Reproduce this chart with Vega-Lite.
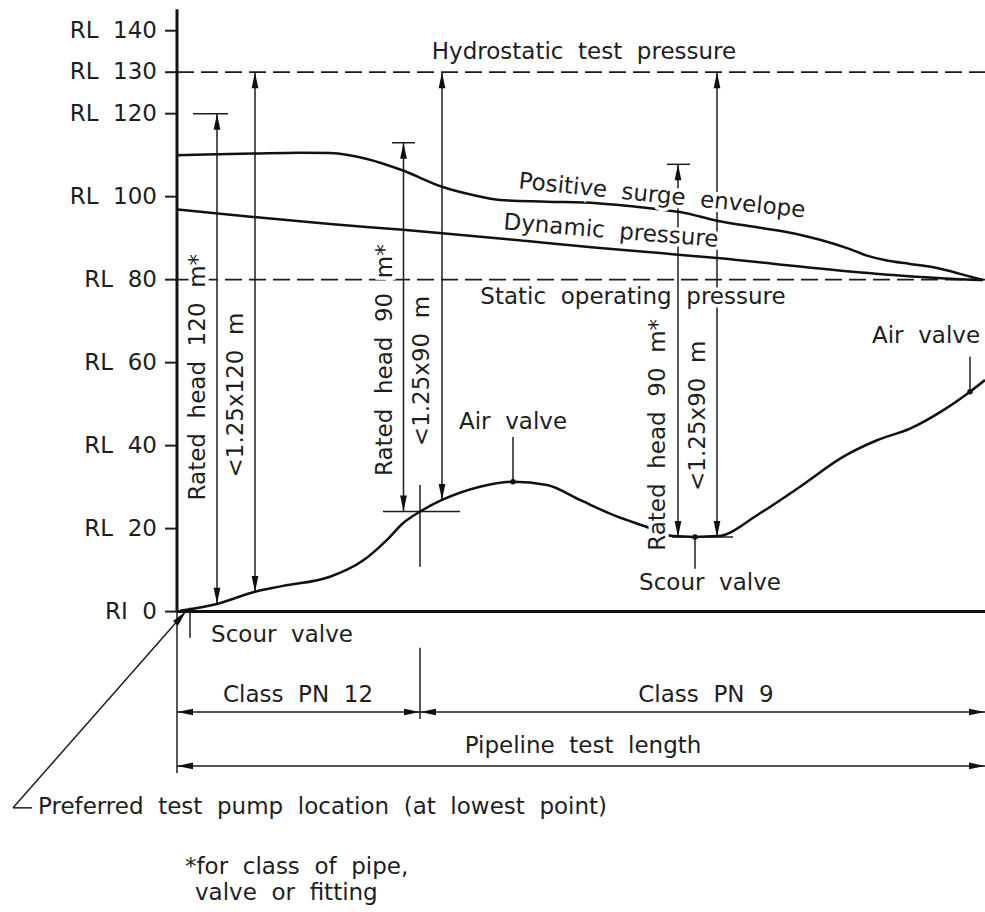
{
  "$schema": "https://vega.github.io/schema/vega-lite/v6.json",
  "width": 985,
  "height": 912,
  "padding": 0,
  "autosize": {"type": "none"},
  "background": "white",
  "config": {"view": {"stroke": null}, "text": {"font": "DejaVu Sans", "fontSize": 23, "color": "#1e1e1e"}},
  "datasets": {
    "curves": [
      {"series": "Positive surge envelope", "x": 0, "y": 110.0},
      {"series": "Positive surge envelope", "x": 76, "y": 110.4},
      {"series": "Positive surge envelope", "x": 123, "y": 110.6},
      {"series": "Positive surge envelope", "x": 153, "y": 110.5},
      {"series": "Positive surge envelope", "x": 190, "y": 109.1},
      {"series": "Positive surge envelope", "x": 226, "y": 106.3},
      {"series": "Positive surge envelope", "x": 265, "y": 102.4},
      {"series": "Positive surge envelope", "x": 296, "y": 100.4},
      {"series": "Positive surge envelope", "x": 323, "y": 99.2},
      {"series": "Positive surge envelope", "x": 370, "y": 98.8},
      {"series": "Positive surge envelope", "x": 420, "y": 98.4},
      {"series": "Positive surge envelope", "x": 483, "y": 96.9},
      {"series": "Positive surge envelope", "x": 503, "y": 96.3},
      {"series": "Positive surge envelope", "x": 540, "y": 94.2},
      {"series": "Positive surge envelope", "x": 583, "y": 92.5},
      {"series": "Positive surge envelope", "x": 616, "y": 91.2},
      {"series": "Positive surge envelope", "x": 643, "y": 89.6},
      {"series": "Positive surge envelope", "x": 670, "y": 87.6},
      {"series": "Positive surge envelope", "x": 690, "y": 85.8},
      {"series": "Positive surge envelope", "x": 710, "y": 84.6},
      {"series": "Positive surge envelope", "x": 733, "y": 83.8},
      {"series": "Positive surge envelope", "x": 760, "y": 82.8},
      {"series": "Positive surge envelope", "x": 783, "y": 81.4},
      {"series": "Positive surge envelope", "x": 806, "y": 79.9},
      {"series": "Dynamic pressure", "x": 0, "y": 96.9},
      {"series": "Dynamic pressure", "x": 76, "y": 95.1},
      {"series": "Dynamic pressure", "x": 153, "y": 93.4},
      {"series": "Dynamic pressure", "x": 226, "y": 92.0},
      {"series": "Dynamic pressure", "x": 265, "y": 91.2},
      {"series": "Dynamic pressure", "x": 350, "y": 89.3},
      {"series": "Dynamic pressure", "x": 420, "y": 87.7},
      {"series": "Dynamic pressure", "x": 483, "y": 86.4},
      {"series": "Dynamic pressure", "x": 540, "y": 85.2},
      {"series": "Dynamic pressure", "x": 650, "y": 82.5},
      {"series": "Dynamic pressure", "x": 716, "y": 81.1},
      {"series": "Dynamic pressure", "x": 783, "y": 80.1},
      {"series": "Dynamic pressure", "x": 806, "y": 79.9},
      {"series": "Ground profile", "x": 3, "y": 0.2},
      {"series": "Ground profile", "x": 40, "y": 1.85},
      {"series": "Ground profile", "x": 78, "y": 4.8},
      {"series": "Ground profile", "x": 106, "y": 6.2},
      {"series": "Ground profile", "x": 153, "y": 8.4},
      {"series": "Ground profile", "x": 186, "y": 12.3},
      {"series": "Ground profile", "x": 210, "y": 17.3},
      {"series": "Ground profile", "x": 226, "y": 21.3},
      {"series": "Ground profile", "x": 243, "y": 24.1},
      {"series": "Ground profile", "x": 265, "y": 26.9},
      {"series": "Ground profile", "x": 303, "y": 30.1},
      {"series": "Ground profile", "x": 336, "y": 31.3},
      {"series": "Ground profile", "x": 370, "y": 30.5},
      {"series": "Ground profile", "x": 403, "y": 26.9},
      {"series": "Ground profile", "x": 436, "y": 23.3},
      {"series": "Ground profile", "x": 470, "y": 20.4},
      {"series": "Ground profile", "x": 496, "y": 18.2},
      {"series": "Ground profile", "x": 518, "y": 18.0},
      {"series": "Ground profile", "x": 541, "y": 18.2},
      {"series": "Ground profile", "x": 583, "y": 23.7},
      {"series": "Ground profile", "x": 623, "y": 30.1},
      {"series": "Ground profile", "x": 666, "y": 37.3},
      {"series": "Ground profile", "x": 700, "y": 41.3},
      {"series": "Ground profile", "x": 733, "y": 44.1},
      {"series": "Ground profile", "x": 766, "y": 48.5},
      {"series": "Ground profile", "x": 793, "y": 53.0},
      {"series": "Ground profile", "x": 808, "y": 55.8}
    ],
    "lines": [
      {"role": "frame", "x": 0, "y": 0, "x2": 0, "y2": 145.2},
      {"role": "frame", "x": 0, "y": 0, "x2": 808, "y2": 0},
      {"role": "tick", "x": -12, "y": 0, "x2": 0, "y2": 0},
      {"role": "tick", "x": -12, "y": 20, "x2": 0, "y2": 20},
      {"role": "tick", "x": -12, "y": 40, "x2": 0, "y2": 40},
      {"role": "tick", "x": -12, "y": 60, "x2": 0, "y2": 60},
      {"role": "tick", "x": -12, "y": 80, "x2": 0, "y2": 80},
      {"role": "tick", "x": -12, "y": 100, "x2": 0, "y2": 100},
      {"role": "tick", "x": -12, "y": 120, "x2": 0, "y2": 120},
      {"role": "tick", "x": -12, "y": 130, "x2": 0, "y2": 130},
      {"role": "tick", "x": -12, "y": 140, "x2": 0, "y2": 140},
      {"role": "ref", "x": 0, "y": 130, "x2": 808, "y2": 130},
      {"role": "ref", "x": 0, "y": 80, "x2": 808, "y2": 80},
      {"role": "dim", "x": 40, "y": 120, "x2": 40, "y2": 1.9},
      {"role": "dim", "x": 16, "y": 120, "x2": 51, "y2": 120},
      {"role": "dim", "x": 78, "y": 130, "x2": 78, "y2": 4.7},
      {"role": "dim", "x": 226.5, "y": 113, "x2": 226.5, "y2": 24.1},
      {"role": "dim", "x": 215, "y": 113, "x2": 238, "y2": 113},
      {"role": "dim", "x": 265, "y": 130, "x2": 265, "y2": 26.9},
      {"role": "dim", "x": 206, "y": 24.1, "x2": 283, "y2": 24.1},
      {"role": "dim", "x": 243, "y": 30.5, "x2": 243, "y2": 10.8},
      {"role": "dim", "x": 501, "y": 107.8, "x2": 501, "y2": 18},
      {"role": "dim", "x": 490, "y": 107.8, "x2": 513, "y2": 107.8},
      {"role": "dim", "x": 540, "y": 130, "x2": 540, "y2": 18},
      {"role": "dim", "x": 495, "y": 18, "x2": 556, "y2": 18},
      {"role": "dim", "x": 518, "y": 18, "x2": 518, "y2": 10.3},
      {"role": "dim", "x": 336, "y": 42.1, "x2": 336, "y2": 31.3},
      {"role": "dim", "x": 793, "y": 61.4, "x2": 793, "y2": 53.0},
      {"role": "dim", "x": 13, "y": 1.0, "x2": 13, "y2": -6.3},
      {"role": "dim", "x": 0, "y": 0, "x2": 0, "y2": -38.9},
      {"role": "dim", "x": 243, "y": -8.7, "x2": 243, "y2": -25.9},
      {"role": "dim", "x": 0, "y": -24.2, "x2": 808, "y2": -24.2},
      {"role": "dim", "x": 0, "y": -37.2, "x2": 808, "y2": -37.2},
      {"role": "dim", "x": -164, "y": -47.3, "x2": 9, "y2": 0.1},
      {"role": "dim", "x": -164, "y": -47.3, "x2": -145, "y2": -47.3}
    ],
    "arrows": [
      {"x": 40, "y": 120, "dir": "up"},
      {"x": 78, "y": 130, "dir": "up"},
      {"x": 226.5, "y": 113, "dir": "up"},
      {"x": 265, "y": 130, "dir": "up"},
      {"x": 501, "y": 107.8, "dir": "up"},
      {"x": 540, "y": 130, "dir": "up"},
      {"x": 40, "y": 1.9, "dir": "down"},
      {"x": 78, "y": 4.7, "dir": "down"},
      {"x": 226.5, "y": 24.1, "dir": "down"},
      {"x": 265, "y": 26.9, "dir": "down"},
      {"x": 501, "y": 18, "dir": "down"},
      {"x": 540, "y": 18, "dir": "down"},
      {"x": 0, "y": -24.2, "dir": "left"},
      {"x": 243, "y": -24.2, "dir": "left"},
      {"x": 0, "y": -37.2, "dir": "left"},
      {"x": 243, "y": -24.2, "dir": "right"},
      {"x": 808, "y": -24.2, "dir": "right"},
      {"x": 808, "y": -37.2, "dir": "right"}
    ],
    "leader_tip": [{"x": 9, "y": 0.1}],
    "valves": [
      {"x": 336, "y": 31.3, "valve": "Air valve"},
      {"x": 793, "y": 53.0, "valve": "Air valve"},
      {"x": 518, "y": 18.0, "valve": "Scour valve"}
    ],
    "labels": [
      {"x": 407, "y": 134.9, "label": "Hydrostatic \u00a0test \u00a0pressure"},
      {"x": 456, "y": 75.8, "label": "Static \u00a0operating \u00a0pressure"},
      {"x": 336, "y": 45.7, "label": "Air \u00a0valve"},
      {"x": 749, "y": 66.4, "label": "Air \u00a0valve"},
      {"x": 533, "y": 6.9, "label": "Scour \u00a0valve"},
      {"x": 105, "y": -5.6, "label": "Scour \u00a0valve"},
      {"x": 121, "y": -20.1, "label": "Class \u00a0PN \u00a012"},
      {"x": 529, "y": -20.1, "label": "Class \u00a0PN \u00a09"},
      {"x": 406, "y": -32.4, "label": "Pipeline \u00a0test \u00a0length"}
    ],
    "axis_labels": [
      {"x": -20, "y": 140, "label": "RL \u00a0140"},
      {"x": -20, "y": 130, "label": "RL \u00a0130"},
      {"x": -20, "y": 120, "label": "RL \u00a0120"},
      {"x": -20, "y": 100, "label": "RL \u00a0100"},
      {"x": -20, "y": 80, "label": "RL \u00a080"},
      {"x": -20, "y": 60, "label": "RL \u00a060"},
      {"x": -20, "y": 40, "label": "RL \u00a040"},
      {"x": -20, "y": 20, "label": "RL \u00a020"},
      {"x": -20, "y": 0, "label": "RI \u00a00"}
    ],
    "notes": [
      {"x": -139, "y": -47.1, "label": "Preferred \u00a0test \u00a0pump \u00a0location \u00a0(at \u00a0lowest \u00a0point)"},
      {"x": 8, "y": -61.5, "label": "*for \u00a0class \u00a0of \u00a0pipe,"},
      {"x": 18, "y": -67.8, "label": "valve \u00a0or \u00a0fitting"}
    ],
    "vertical_labels": [
      {"x": 21, "y": 56.5, "label": "Rated \u00a0head \u00a0120 \u00a0m*"},
      {"x": 59, "y": 52.2, "label": "<1.25x120 \u00a0m"},
      {"x": 208, "y": 60.6, "label": "Rated \u00a0head \u00a090 \u00a0m*"},
      {"x": 245, "y": 58.0, "label": "<1.25x90 \u00a0m"},
      {"x": 481, "y": 42.6, "label": "Rated \u00a0head \u00a090 \u00a0m*"},
      {"x": 521, "y": 47.2, "label": "<1.25x90 \u00a0m"}
    ],
    "surge_label": [{"x": 485, "y": 100.2, "label": "Positive \u00a0surge \u00a0envelope"}],
    "dynamic_label": [{"x": 434, "y": 91.7, "label": "Dynamic \u00a0pressure"}]
  },
  "encoding": {
    "x": {"field": "x", "type": "quantitative", "scale": {"domain": [-177, 808], "nice": false, "zero": false}, "axis": null},
    "y": {"field": "y", "type": "quantitative", "scale": {"domain": [-72.4, 147.4], "nice": false, "zero": false}, "axis": null}
  },
  "layer": [
    {
      "data": {"name": "lines"},
      "transform": [{"filter": "datum.role === 'ref'"}],
      "mark": {"type": "rule", "color": "#1e1e1e", "strokeWidth": 1.8, "strokeDash": [17, 7]},
      "encoding": {"x2": {"field": "x2"}, "y2": {"field": "y2"}}
    },
    {
      "data": {"name": "lines"},
      "transform": [{"filter": "datum.role === 'dim'"}],
      "mark": {"type": "rule", "color": "#1e1e1e", "strokeWidth": 1.5},
      "encoding": {"x2": {"field": "x2"}, "y2": {"field": "y2"}}
    },
    {
      "data": {"name": "lines"},
      "transform": [{"filter": "datum.role === 'tick'"}],
      "mark": {"type": "rule", "color": "#1e1e1e", "strokeWidth": 2},
      "encoding": {"x2": {"field": "x2"}, "y2": {"field": "y2"}}
    },
    {
      "data": {"name": "lines"},
      "transform": [{"filter": "datum.role === 'frame'"}],
      "mark": {"type": "rule", "color": "#111", "strokeWidth": 3},
      "encoding": {"x2": {"field": "x2"}, "y2": {"field": "y2"}}
    },
    {
      "data": {"name": "curves"},
      "mark": {"type": "line", "color": "#111", "strokeWidth": 2.5, "interpolate": "monotone"},
      "encoding": {"detail": {"field": "series", "type": "nominal"}, "order": {"field": "x", "type": "quantitative"}}
    },
    {
      "data": {"name": "arrows"},
      "mark": {"type": "point", "filled": true, "opacity": 1, "size": 256, "color": "#111", "strokeWidth": 0},
      "encoding": {
        "shape": {
          "field": "dir", "type": "nominal", "legend": null,
          "scale": {
            "domain": ["up", "down", "left", "right"],
            "range": ["M0,0L0.42,2L-0.42,2Z", "M0,0L0.42,-2L-0.42,-2Z", "M0,0L2,0.42L2,-0.42Z", "M0,0L-2,0.42L-2,-0.42Z"]
          }
        }
      }
    },
    {
      "data": {"name": "leader_tip"},
      "mark": {"type": "point", "shape": "M0,0L0.42,2L-0.42,2Z", "angle": 41, "filled": true, "opacity": 1, "size": 256, "color": "#111", "strokeWidth": 0}
    },
    {
      "data": {"name": "valves"},
      "mark": {"type": "point", "shape": "circle", "filled": true, "opacity": 1, "size": 30, "color": "#111"}
    },
    {
      "data": {"name": "labels"},
      "mark": {"type": "text", "align": "center", "baseline": "middle", "color": "white", "stroke": "white", "strokeWidth": 7},
      "encoding": {"text": {"field": "label"}}
    },
    {
      "data": {"name": "vertical_labels"},
      "mark": {"type": "text", "align": "center", "baseline": "middle", "angle": 270, "color": "white", "stroke": "white", "strokeWidth": 7},
      "encoding": {"text": {"field": "label"}}
    },
    {
      "data": {"name": "surge_label"},
      "mark": {"type": "text", "align": "center", "baseline": "middle", "angle": 5.8, "color": "white", "stroke": "white", "strokeWidth": 7},
      "encoding": {"text": {"field": "label"}}
    },
    {
      "data": {"name": "dynamic_label"},
      "mark": {"type": "text", "align": "center", "baseline": "middle", "angle": 4.7, "color": "white", "stroke": "white", "strokeWidth": 7},
      "encoding": {"text": {"field": "label"}}
    },
    {
      "data": {"name": "labels"},
      "mark": {"type": "text", "align": "center", "baseline": "middle"},
      "encoding": {"text": {"field": "label"}}
    },
    {
      "data": {"name": "axis_labels"},
      "mark": {"type": "text", "align": "right", "baseline": "middle"},
      "encoding": {"text": {"field": "label"}}
    },
    {
      "data": {"name": "notes"},
      "mark": {"type": "text", "align": "left", "baseline": "middle"},
      "encoding": {"text": {"field": "label"}}
    },
    {
      "data": {"name": "vertical_labels"},
      "mark": {"type": "text", "align": "center", "baseline": "middle", "angle": 270},
      "encoding": {"text": {"field": "label"}}
    },
    {
      "data": {"name": "surge_label"},
      "mark": {"type": "text", "align": "center", "baseline": "middle", "angle": 5.8},
      "encoding": {"text": {"field": "label"}}
    },
    {
      "data": {"name": "dynamic_label"},
      "mark": {"type": "text", "align": "center", "baseline": "middle", "angle": 4.7},
      "encoding": {"text": {"field": "label"}}
    }
  ]
}
